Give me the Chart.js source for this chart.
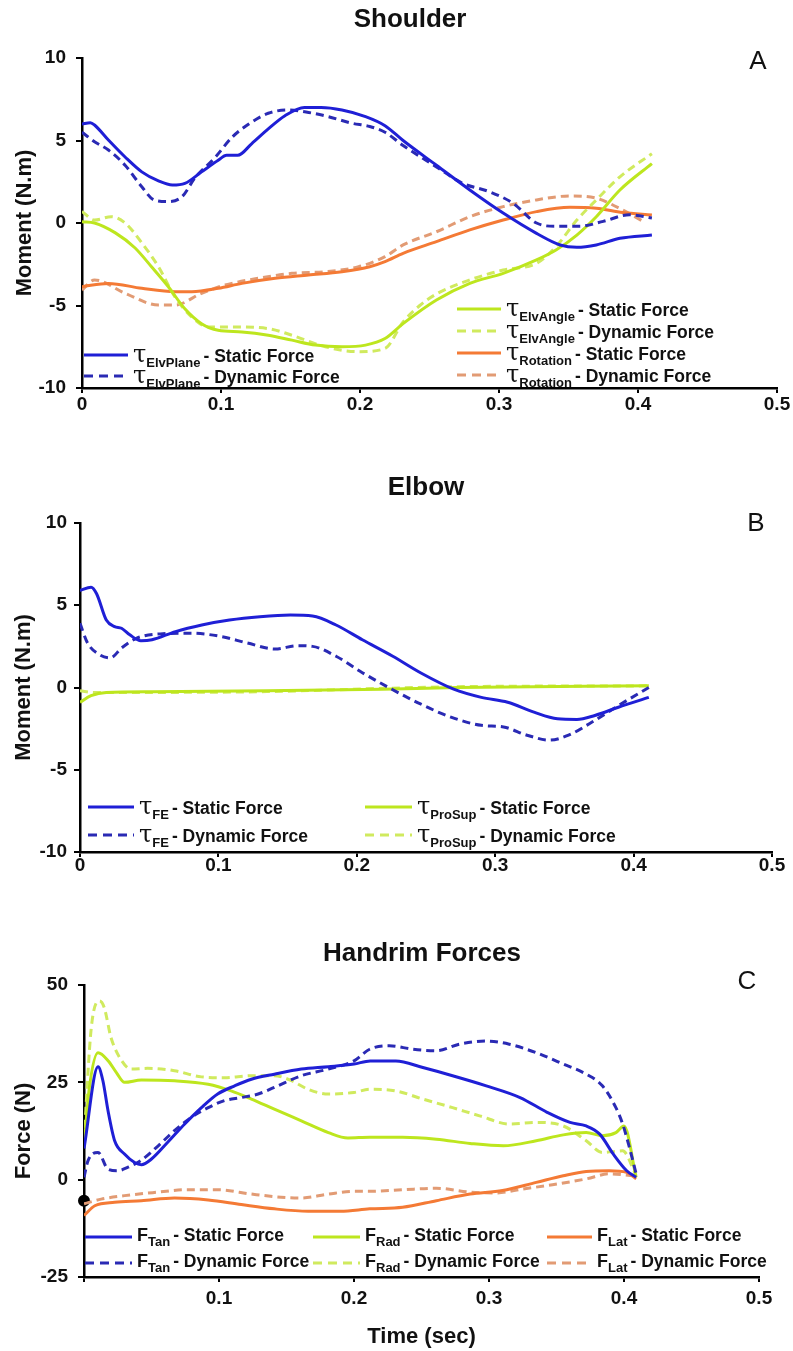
<!DOCTYPE html>
<html>
<head>
<meta charset="utf-8">
<script src="https://cdn.jsdelivr.net/npm/chart.js@4.4.1/dist/chart.umd.min.js"></script>
<style>
  body { margin: 0; background: #fff; }
  #page { position: relative; width: 793px; height: 1351px; overflow: hidden; font-family: "Liberation Sans", Arial, sans-serif; color: #111; }
  canvas { position: absolute; left: 0; }
  .title { position: absolute; transform: translate(-50%, -50%); font-weight: bold; font-size: 26px; white-space: nowrap; }
  .letter { position: absolute; transform: translate(-50%, -50%); font-size: 26px; }
  .leg { position: absolute; height: 22px; display: flex; align-items: center; white-space: nowrap; font-weight: bold; font-size: 17.5px; }
  .leg svg { flex: none; }
  .sym { font-family: "DejaVu Serif", "Liberation Serif", serif; font-weight: normal; font-size: 24px; }
  .symF { font-size: 18px; }
  .leg sub { font-size: 13px; vertical-align: -5px; margin-right: 3px; }
</style>
</head>
<body>
<div id="page">
  <canvas id="chartA" width="793" height="440" style="top:0"></canvas>
  <canvas id="chartB" width="793" height="450" style="top:440px"></canvas>
  <canvas id="chartC" width="793" height="461" style="top:890px"></canvas>

  <div class="title" style="left:410px;top:18px">Shoulder</div>
  <div class="letter" style="left:758px;top:60px">A</div>
  <div class="title" style="left:426px;top:486px">Elbow</div>
  <div class="letter" style="left:756px;top:522px">B</div>
  <div class="title" style="left:422px;top:952px">Handrim Forces</div>
  <div class="letter" style="left:747px;top:980px">C</div>
</div>

<script>
// Panel A - shoulder moments, [time (s), moment (N.m)]
const elvPlaneStatic = [[0, 6.0], [0.006, 6.08], [0.009, 5.94], [0.019, 5.03], [0.031, 4.0], [0.043, 3.1], [0.055, 2.55], [0.065, 2.3], [0.074, 2.4], [0.086, 3.1], [0.098, 3.8], [0.104, 4.1], [0.112, 4.1], [0.122, 4.8], [0.134, 5.7], [0.146, 6.5], [0.16, 7.0], [0.172, 7.0], [0.187, 6.85], [0.204, 6.45], [0.218, 5.9], [0.231, 5.0], [0.255, 3.5], [0.279, 2.0], [0.303, 0.6], [0.327, -0.63], [0.344, -1.33], [0.356, -1.47], [0.37, -1.33], [0.387, -0.93], [0.41, -0.73]];
const elvPlaneDynamic = [[0, 5.5], [0.009, 4.93], [0.019, 4.42], [0.031, 3.5], [0.043, 2.2], [0.052, 1.39], [0.062, 1.3], [0.072, 1.6], [0.081, 2.7], [0.096, 4.0], [0.108, 5.2], [0.12, 6.0], [0.134, 6.65], [0.148, 6.85], [0.163, 6.7], [0.177, 6.45], [0.194, 6.05], [0.207, 5.85], [0.218, 5.5], [0.231, 4.7], [0.255, 3.4], [0.274, 2.4], [0.293, 1.9], [0.31, 1.2], [0.327, 0], [0.341, -0.2], [0.358, -0.2], [0.375, 0.1], [0.394, 0.5], [0.41, 0.3]];
const elvAngleStatic = [[0, 0.08], [0.009, 0], [0.024, -0.6], [0.038, -1.5], [0.05, -2.65], [0.062, -3.85], [0.074, -5.2], [0.086, -6.1], [0.098, -6.5], [0.115, -6.6], [0.134, -6.8], [0.151, -7.1], [0.168, -7.4], [0.187, -7.5], [0.204, -7.4], [0.218, -7.0], [0.231, -6.1], [0.255, -4.67], [0.279, -3.66], [0.303, -3.05], [0.327, -2.24], [0.341, -1.64], [0.356, -0.73], [0.37, 0.38], [0.387, 2.0], [0.41, 3.6]];
const elvAngleDynamic = [[0, 0.7], [0.009, 0.18], [0.021, 0.38], [0.031, 0], [0.043, -1.2], [0.055, -2.65], [0.067, -4.5], [0.079, -5.7], [0.091, -6.3], [0.11, -6.3], [0.134, -6.4], [0.151, -6.8], [0.175, -7.5], [0.199, -7.8], [0.218, -7.6], [0.231, -6.0], [0.243, -5.0], [0.255, -4.3], [0.279, -3.45], [0.303, -2.85], [0.327, -2.44], [0.341, -1.43], [0.356, 0.18], [0.37, 1.4], [0.387, 2.8], [0.41, 4.2]];
const rotationStatic = [[0, -3.86], [0.019, -3.66], [0.043, -3.96], [0.067, -4.16], [0.079, -4.16], [0.098, -3.96], [0.115, -3.66], [0.139, -3.35], [0.163, -3.15], [0.187, -2.95], [0.207, -2.65], [0.218, -2.34], [0.231, -1.84], [0.255, -1.13], [0.279, -0.42], [0.303, 0.18], [0.327, 0.69], [0.351, 0.95], [0.37, 0.89], [0.389, 0.63], [0.41, 0.48]];
const rotationDynamic = [[0, -4.06], [0.009, -3.45], [0.031, -4.26], [0.055, -4.97], [0.067, -4.97], [0.086, -4.26], [0.103, -3.76], [0.127, -3.35], [0.151, -3.05], [0.175, -2.95], [0.199, -2.65], [0.218, -2.04], [0.231, -1.33], [0.255, -0.53], [0.279, 0.38], [0.303, 0.99], [0.327, 1.4], [0.351, 1.64], [0.37, 1.5], [0.389, 0.79], [0.404, 0.08]];

// Panel B - elbow moments
const feStatic = [[0, 5.9], [0.008, 6.1], [0.012, 5.7], [0.019, 4.1], [0.025, 3.7], [0.03, 3.6], [0.036, 3.2], [0.044, 2.84], [0.052, 2.9], [0.069, 3.4], [0.088, 3.8], [0.108, 4.1], [0.13, 4.3], [0.152, 4.4], [0.168, 4.34], [0.185, 3.8], [0.204, 2.9], [0.226, 1.9], [0.246, 0.9], [0.27, -0.1], [0.29, -0.6], [0.309, -0.9], [0.328, -1.5], [0.345, -1.9], [0.359, -1.94], [0.372, -1.7], [0.389, -1.2], [0.411, -0.6]];
const feDynamic = [[0, 3.9], [0.0055, 2.7], [0.014, 2.0], [0.022, 1.8], [0.03, 2.4], [0.041, 3.0], [0.058, 3.26], [0.08, 3.3], [0.102, 3.1], [0.121, 2.7], [0.141, 2.34], [0.157, 2.54], [0.168, 2.5], [0.185, 1.9], [0.204, 0.9], [0.223, 0], [0.246, -1.0], [0.268, -1.8], [0.29, -2.3], [0.306, -2.4], [0.323, -2.9], [0.339, -3.2], [0.353, -2.9], [0.37, -2.1], [0.389, -1.1], [0.411, 0]];
const proSupStatic = [[0, -0.9], [0.008, -0.5], [0.019, -0.3], [0.052, -0.26], [0.135, -0.2], [0.218, -0.1], [0.273, 0], [0.411, 0.1]];
const proSupDynamic = [[0, -0.2], [0.01, -0.3], [0.03, -0.3], [0.135, -0.25], [0.22, -0.05], [0.273, 0.05], [0.411, 0.1]];

// Panel C - handrim forces, [time (s), force (N)]
const tanStatic = [[0, 8], [0.0104, 29.0], [0.014, 25.4], [0.0178, 17.7], [0.0227, 10], [0.03, 6.6], [0.0375, 4.4], [0.0425, 3.85], [0.05, 5.3], [0.062, 9.6], [0.0746, 14.3], [0.087, 18.5], [0.099, 22], [0.1116, 24.1], [0.124, 25.8], [0.141, 27.1], [0.161, 28.4], [0.181, 29], [0.2, 29.7], [0.212, 30.5], [0.231, 30.5], [0.251, 28.8], [0.273, 26.7], [0.298, 24.1], [0.323, 21.1], [0.343, 17.3], [0.36, 14.7], [0.372, 13.8], [0.382, 11.7], [0.392, 6.6], [0.402, 2.3], [0.409, 0.6]];
const tanDynamic = [[0, 0.6], [0.003, 4.9], [0.0104, 7.0], [0.0178, 2.7], [0.025, 2.3], [0.0326, 3.2], [0.042, 4.9], [0.055, 8.7], [0.067, 12.6], [0.0795, 16], [0.092, 18.5], [0.104, 20.3], [0.1165, 21.1], [0.129, 22], [0.141, 23.7], [0.161, 26.7], [0.181, 28.4], [0.2, 30.5], [0.2116, 33.5], [0.226, 34.4], [0.2437, 33.5], [0.261, 33.1], [0.278, 34.8], [0.298, 35.6], [0.315, 34.8], [0.335, 32.6], [0.355, 29.7], [0.372, 27.1], [0.384, 24.1], [0.394, 18.5], [0.399, 14.3], [0.404, 8.3], [0.409, 1.5]];
const radStatic = [[0, 8.3], [0.004, 23.7], [0.0104, 32.6], [0.018, 30.5], [0.024, 27.5], [0.03, 25], [0.0425, 25.6], [0.067, 25.4], [0.092, 24.5], [0.109, 22.8], [0.124, 20.7], [0.141, 18.1], [0.161, 15.1], [0.181, 12.1], [0.1955, 10.7], [0.2116, 10.9], [0.236, 10.9], [0.261, 10.4], [0.286, 9.3], [0.3106, 8.7], [0.335, 10], [0.355, 11.5], [0.372, 12.1], [0.384, 11.3], [0.394, 12.1], [0.4, 13.8], [0.409, 0.6]];
const radDynamic = [[0, 10], [0.0054, 39], [0.0116, 45.9], [0.015, 44.2], [0.02, 36.5], [0.028, 30.5], [0.035, 28.4], [0.047, 28.6], [0.067, 28], [0.087, 26.4], [0.104, 26.2], [0.124, 26.7], [0.141, 26.7], [0.154, 25.4], [0.166, 23.2], [0.181, 22], [0.2, 22.4], [0.2116, 23.2], [0.231, 22.8], [0.251, 20.7], [0.273, 18.5], [0.293, 16.4], [0.315, 14.3], [0.335, 14.7], [0.355, 13.8], [0.372, 10], [0.384, 7], [0.399, 7.4], [0.409, 1]];
const latStatic = [[0, -9.2], [0.008, -6.7], [0.0227, -5.8], [0.0425, -5.4], [0.067, -4.7], [0.092, -5.2], [0.1165, -6.4], [0.141, -7.5], [0.166, -8.1], [0.19, -8.1], [0.2116, -7.5], [0.236, -7.1], [0.261, -5.4], [0.286, -3.7], [0.31, -2.8], [0.335, -0.7], [0.355, 1.0], [0.372, 2.1], [0.389, 2.3], [0.402, 1.9], [0.409, 0.2]];
const latDynamic = [[0, -6.2], [0.0128, -5], [0.03, -4.1], [0.055, -3.2], [0.0746, -2.6], [0.099, -2.6], [0.124, -3.7], [0.146, -4.5], [0.161, -4.7], [0.181, -3.7], [0.2, -3.0], [0.2116, -3.0], [0.236, -2.6], [0.261, -2.2], [0.286, -3.2], [0.3055, -3.4], [0.325, -2.4], [0.347, -1.3], [0.372, 0.2], [0.389, 1.5], [0.407, 1.0]];
const startMarker = [[0, -5.4]];

const yTicksMoment = [-10, 10, 5];
const yTicksForce = [-25, 50, 25];

const FONT = '"Liberation Sans", Arial, sans-serif';
const BLUE = '#1f1fd6', BLUE_D = '#2a2ab4';
const GREEN = '#bde61e', GREEN_D = '#d0ea5e';
const ORANGE = '#f47a35', ORANGE_D = '#e29b74';

function series(pairs, color, dashed) {
    return {
        data: pairs.map(p => ({ x: p[0], y: p[1] })),
        borderColor: color,
        backgroundColor: color,
        borderWidth: 3,
        borderDash: dashed ? [8, 5] : [],
        pointRadius: 0,
        fill: false,
        cubicInterpolationMode: 'monotone',
    };
}

function panel(id, o) {
    const ctx = document.getElementById(id).getContext('2d');
    const tickFont = { family: FONT, size: 19, weight: 'bold' };
    const titleFont = { family: FONT, size: 22, weight: 'bold' };
    return new Chart(ctx, {
        type: 'line',
        data: { datasets: o.datasets },
        options: {
            responsive: false,
            animation: false,
            devicePixelRatio: 1,
            layout: { autoPadding: false, padding: { top: o.top, right: o.right, bottom: 0, left: 0 } },
            plugins: { legend: { display: false }, tooltip: { enabled: false } },
            scales: {
                x: {
                    type: 'linear', min: 0, max: 0.5,
                    afterFit: s => { s.height = o.xHeight; },
                    border: { display: true, color: '#000', width: 2.5 },
                    grid: { drawOnChartArea: false, color: '#000', lineWidth: 2, tickLength: 5 },
                    ticks: {
                        stepSize: 0.1, autoSkip: false, maxRotation: 0, padding: o.xPad,
                        color: '#111', font: tickFont,
                        callback: v => (v === 0 ? (o.hideZero ? '' : '0') : v.toFixed(1))
                    },
                    title: o.xTitle
                        ? { display: true, text: o.xTitle, color: '#111', font: titleFont, padding: { top: 0, bottom: 1 } }
                        : { display: false }
                },
                y: {
                    min: o.yTicks[0], max: o.yTicks[1],
                    afterFit: s => { s.width = o.yWidth; },
                    border: { display: true, color: '#000', width: 2.5 },
                    grid: { drawOnChartArea: false, color: '#000', lineWidth: 2, tickLength: 6 },
                    ticks: { stepSize: o.yTicks[2], padding: o.yPad, color: '#111', font: tickFont },
                    title: { display: true, text: o.yTitle, color: '#111', font: titleFont, padding: { top: o.yTitlePad, bottom: 0 } }
                }
            }
        }
    });
}

panel('chartA', {
    top: 58, right: 16, xHeight: 52, yWidth: 82, xPad: 0, yPad: 10, yTitlePad: 12,
    yTicks: yTicksMoment, yTitle: 'Moment (N.m)',
    datasets: [
        series(elvPlaneStatic, BLUE, false),
        series(elvPlaneDynamic, BLUE_D, true),
        series(elvAngleStatic, GREEN, false),
        series(elvAngleDynamic, GREEN_D, true),
        series(rotationStatic, ORANGE, false),
        series(rotationDynamic, ORANGE_D, true),
    ]
});

panel('chartB', {
    top: 83, right: 21, xHeight: 38, yWidth: 80, xPad: -3, yPad: 7, yTitlePad: 11,
    yTicks: yTicksMoment, yTitle: 'Moment (N.m)',
    datasets: [
        series(feStatic, BLUE, false),
        series(feDynamic, BLUE_D, true),
        series(proSupStatic, GREEN, false),
        series(proSupDynamic, GREEN_D, true),
    ]
});

const marker = series(startMarker, '#000', false);
marker.pointRadius = 4.5;
marker.showLine = false;
marker.clip = false;

panel('chartC', {
    top: 95, right: 34, xHeight: 74, yWidth: 84, xPad: 5, yPad: 10, yTitlePad: 11,
    yTicks: yTicksForce, yTitle: 'Force (N)', xTitle: 'Time (sec)', hideZero: true,
    datasets: [
        series(tanStatic, BLUE, false),
        series(tanDynamic, BLUE_D, true),
        series(radStatic, GREEN, false),
        series(radDynamic, GREEN_D, true),
        series(latStatic, ORANGE, false),
        series(latDynamic, ORANGE_D, true),
        marker,
    ]
});

// legends drawn as html rows inside the plot areas
function legendRow(x, y, w, color, dashed, sym, sub, text) {
    const row = document.createElement('div');
    row.className = 'leg';
    row.style.left = x + 'px';
    row.style.top = (y - 11) + 'px';
    const dash = dashed ? ' stroke-dasharray="9 6"' : '';
    row.innerHTML =
        `<svg width="${w}" height="8"><line x1="0" y1="4" x2="${w}" y2="4" stroke="${color}" stroke-width="3"${dash}/></svg>` +
        `<span style="margin-left:5px"><span class="${sym === 'τ' ? 'sym' : 'symF'}">${sym}</span><sub>${sub}</sub>- ${text}</span>`;
    document.getElementById('page').appendChild(row);
}

legendRow(84, 355, 44, BLUE, false, 'τ', 'ElvPlane', 'Static Force');
legendRow(84, 376, 44, BLUE_D, true, 'τ', 'ElvPlane', 'Dynamic Force');
legendRow(457, 309, 44, GREEN, false, 'τ', 'ElvAngle', 'Static Force');
legendRow(457, 331, 44, GREEN_D, true, 'τ', 'ElvAngle', 'Dynamic Force');
legendRow(457, 353, 44, ORANGE, false, 'τ', 'Rotation', 'Static Force');
legendRow(457, 375, 44, ORANGE_D, true, 'τ', 'Rotation', 'Dynamic Force');

legendRow(88, 807, 46, BLUE, false, 'τ', 'FE', 'Static Force');
legendRow(88, 835, 46, BLUE_D, true, 'τ', 'FE', 'Dynamic Force');
legendRow(365, 807, 47, GREEN, false, 'τ', 'ProSup', 'Static Force');
legendRow(365, 835, 47, GREEN_D, true, 'τ', 'ProSup', 'Dynamic Force');

legendRow(85, 1237, 47, BLUE, false, 'F', 'Tan', 'Static Force');
legendRow(85, 1263, 47, BLUE_D, true, 'F', 'Tan', 'Dynamic Force');
legendRow(313, 1237, 47, GREEN, false, 'F', 'Rad', 'Static Force');
legendRow(313, 1263, 47, GREEN_D, true, 'F', 'Rad', 'Dynamic Force');
legendRow(547, 1237, 45, ORANGE, false, 'F', 'Lat', 'Static Force');
legendRow(547, 1263, 45, ORANGE_D, true, 'F', 'Lat', 'Dynamic Force');
</script>
</body>
</html>
